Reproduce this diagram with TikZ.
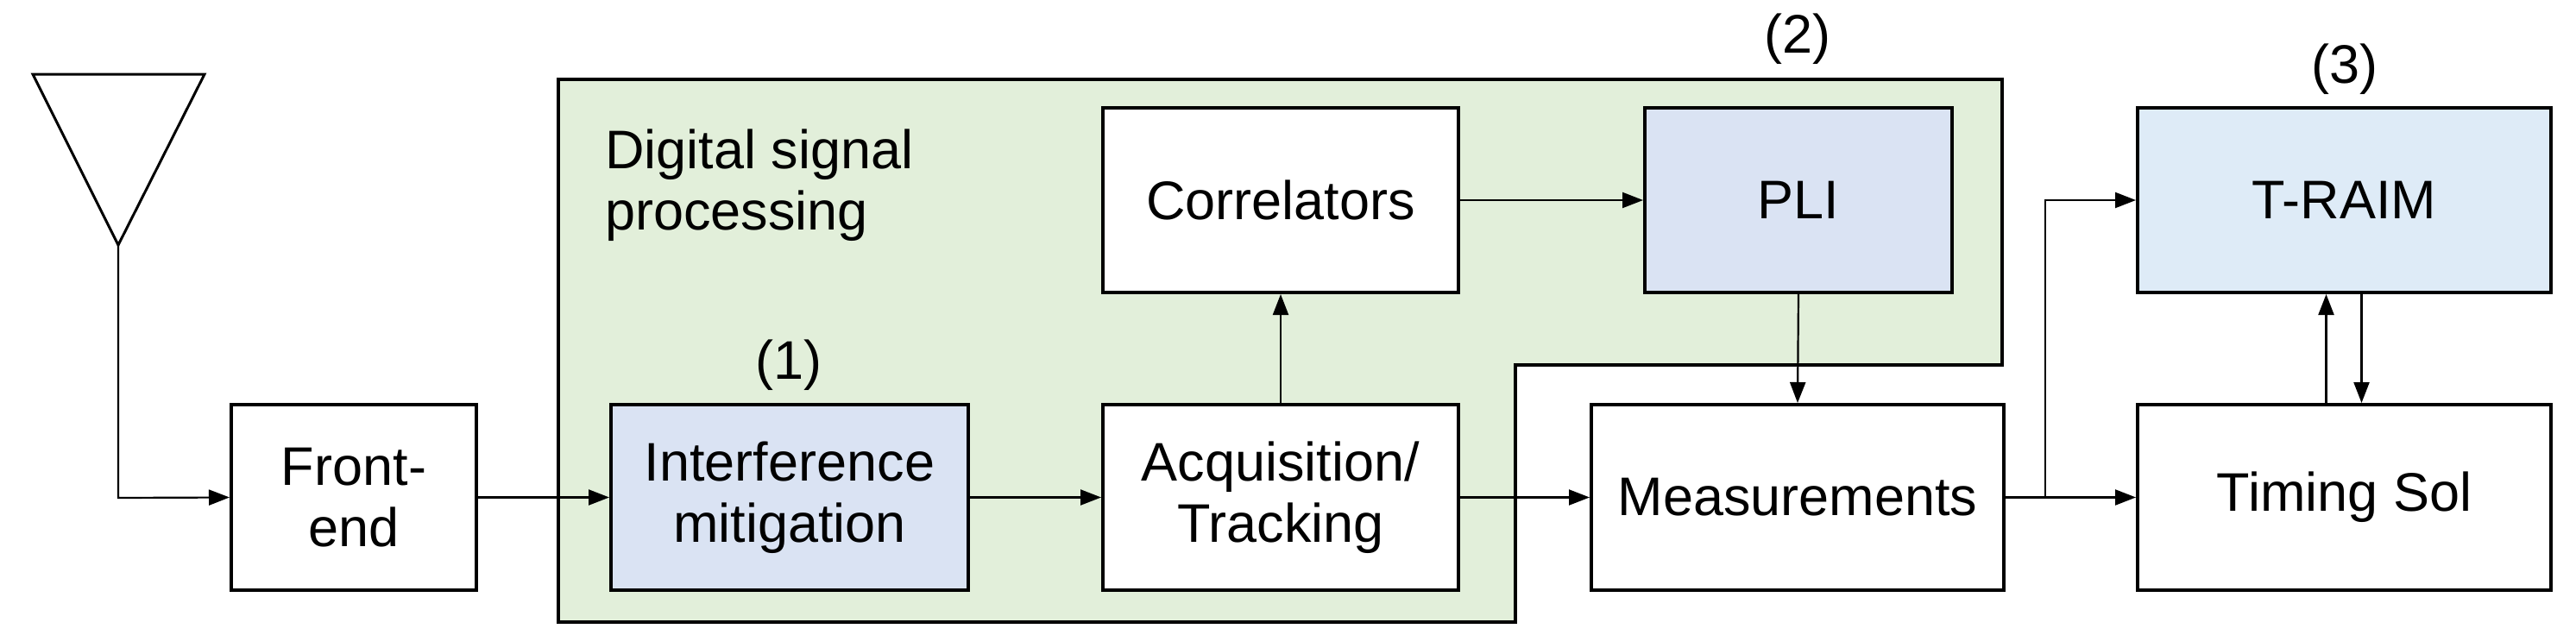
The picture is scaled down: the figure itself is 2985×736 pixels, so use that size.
\documentclass[tikz,border=0pt]{standalone}
\usepackage{fontspec}
\setmainfont{Liberation Sans}
\usetikzlibrary{arrows.meta}
\definecolor{dspgreen}{HTML}{E2EFDA}
\definecolor{blueA}{HTML}{DAE3F3}
\definecolor{blueB}{HTML}{DEEBF7}
\begin{document}
\begin{tikzpicture}[x=1pt,y=-1pt,
  box/.style={draw,line width=4pt,fill=white,align=center,inner sep=0pt,font=\fontsize{63}{71}\selectfont},
  lbl/.style={font=\fontsize{63}{71}\selectfont,align=left},
  conn/.style={line width=2.2pt,-{Triangle[length=24pt,width=18pt]}}]
\useasboundingbox (0,0) rectangle (2985,736);
% DSP region
\draw[line width=4pt,fill=dspgreen] (647,92) -- (2320,92) -- (2320,423) -- (1756,423) -- (1756,721) -- (647,721) -- cycle;
\node[lbl,anchor=north west,inner sep=0pt] (dsp) at (701,150) {Digital signal\\processing};
% antenna
\draw[line width=3pt] (38,86) -- (237,86) -- (137,284) -- cycle;
\coordinate (ant) at (137,284);
\coordinate (antc) at (137,577);
% boxes
\node[box,minimum width=284pt,minimum height=215pt] (fe) at (410,576.5) {Front-\\end};
\node[box,fill=blueA,minimum width=414pt,minimum height=215pt] (im) at (915,576.5) {Interference\\mitigation};
\node[box,minimum width=412pt,minimum height=215pt] (acq) at (1484,576.5) {Acquisition/\\Tracking};
\node[box,minimum width=412pt,minimum height=214pt] (cor) at (1484,232) {Correlators};
\node[box,fill=blueA,minimum width=356pt,minimum height=214pt] (pli) at (2084,232) {PLI};
\node[box,minimum width=478pt,minimum height=215pt] (meas) at (2083,576.5) {Measurements};
\node[box,fill=blueB,minimum width=479pt,minimum height=214pt] (traim) at (2716.5,232) {T-RAIM};
\node[box,minimum width=479pt,minimum height=215pt] (ts) at (2716.5,576.5) {Timing Sol};
% labels
\node[lbl] (l1) at (914,423) {(1)};
\node[lbl] (l2) at (2083,45) {(2)};
\node[lbl] (l3) at (2717,80) {(3)};
% connectors
\draw[conn] (ant) -- (antc) -- (fe.west);
\draw[conn] (fe.east) -- (im.west);
\draw[conn] (im.east) -- (acq.west);
\draw[conn] (acq.north) -- (cor.south);
\draw[conn] (cor.east) -- (pli.west);
\draw[conn] (pli.south) -- (meas.north);
\draw[conn] (acq.east) -- (meas.west);
\draw[conn] (meas.east) -- (ts.west);
\coordinate (br) at (2370,577);
\draw[conn] (br) -- (2370,232) -- (traim.west);
\draw[conn] ([xshift=-21pt]ts.north) -- ([xshift=-21pt]traim.south);
\draw[conn] ([xshift=20pt]traim.south) -- ([xshift=20pt]ts.north);
\end{tikzpicture}
\end{document}
